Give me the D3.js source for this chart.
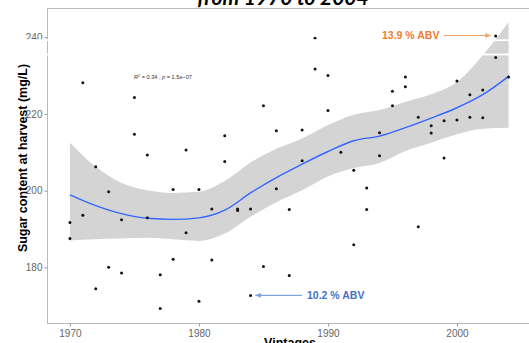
<!DOCTYPE html>
<html>
<head>
<meta charset="utf-8">
<script src="https://cdn.jsdelivr.net/npm/d3@7"></script>
<style>
  html, body { margin: 0; padding: 0; background: #fff; }
  svg { display: block; }
</style>
</head>
<body>
<svg id="chart" width="529" height="343"></svg>
<script>
// Harvest sugar content per vintage (two samples for most years)
const vintages = [
  1970, 1970, 1971, 1971, 1972, 1972, 1973, 1973, 1974, 1974,
  1975, 1975, 1976, 1976, 1977, 1977, 1978, 1978, 1979, 1979,
  1980, 1980, 1981, 1981, 1982, 1982, 1983, 1983, 1984, 1984,
  1985, 1985, 1986, 1986, 1987, 1987, 1988, 1988, 1989, 1989,
  1990, 1990, 1991, 1992, 1992, 1993, 1993, 1994, 1994, 1995,
  1995, 1996, 1996, 1997, 1997, 1998, 1998, 1999, 1999, 2000,
  2000, 2001, 2001, 2002, 2002, 2003, 2003, 2004
];
const sugar = [
  191.7, 187.5, 228.1, 193.6, 206.2, 174.4, 199.7, 180.0, 192.4, 178.5,
  224.3, 214.7, 209.3, 192.9, 178.1, 169.3, 200.3, 182.1, 210.6, 189.0,
  200.3, 171.2, 195.2, 181.9, 214.3, 207.6, 195.2, 194.8, 195.2, 172.7,
  222.1, 180.2, 215.6, 200.5, 195.1, 177.9, 215.8, 207.8, 239.7, 231.7,
  230.0, 220.9, 210.0, 205.3, 185.9, 200.7, 195.1, 215.1, 209.1, 225.9,
  222.1, 229.6, 227.1, 219.1, 190.6, 216.9, 215.0, 218.2, 208.5, 228.6,
  218.4, 225.0, 219.1, 226.2, 219.0, 240.3, 234.7, 229.6
];

// Smoothed trend with its confidence band
const smoothYears = [1970, 1972, 1974, 1976, 1978, 1980, 1982, 1984, 1986,
                     1988, 1990, 1992, 1994, 1996, 1998, 2000, 2002, 2004];
const smoothFit  = [198.9, 196.1, 194.0, 192.8, 192.5, 192.9, 194.9, 199.4, 203.4,
                    206.9, 210.2, 213.0, 214.2, 216.4, 218.9, 221.6, 225.0, 229.8];
const smoothLow  = [187.0, 187.3, 187.5, 187.7, 187.3, 186.9, 188.8, 193.2, 197.0,
                    200.1, 203.7, 205.9, 207.2, 210.3, 212.5, 214.7, 216.1, 216.4];
const smoothHigh = [212.5, 206.2, 202.0, 200.1, 199.4, 199.7, 202.5, 207.3, 210.9,
                    213.6, 217.1, 219.8, 221.0, 223.1, 225.1, 228.3, 235.3, 243.9];

const xTicks = [1970, 1980, 1990, 2000];
const yTicks = [180, 200, 220, 240];

// Labelled extremes
const highLabel = { year: 2003, value: 240.3, text: "13.9 % ABV" };
const lowLabel  = { year: 1984, value: 172.7, text: "10.2 % ABV" };

const svg = d3.select("#chart");
const panel = { left: 47.5, right: 531, top: 8.5, bottom: 323.5 };

const x = d3.scaleLinear().domain([1968.3, 2005.7]).range([48, 530.5]);
const y = d3.scaleLinear().domain([165.5, 247.6]).range([323, 8]);

// panel border
svg.append("rect")
  .attr("x", panel.left).attr("y", panel.top)
  .attr("width", panel.right - panel.left).attr("height", panel.bottom - panel.top)
  .attr("fill", "none").attr("stroke", "#b9b9b9").attr("stroke-width", 1);

const band = smoothYears.map((yr, i) => ({ yr, fit: smoothFit[i], lo: smoothLow[i], hi: smoothHigh[i] }));

svg.append("path")
  .datum(band)
  .attr("fill", "#d4d4d4")
  .attr("d", d3.area()
    .curve(d3.curveMonotoneX)
    .x(d => x(d.yr)).y0(d => y(d.lo)).y1(d => y(d.hi)));

svg.append("path")
  .datum(band)
  .attr("fill", "none")
  .attr("stroke", "#3366ff")
  .attr("stroke-width", 1.4)
  .attr("d", d3.line()
    .curve(d3.curveMonotoneX)
    .x(d => x(d.yr)).y(d => y(d.fit)));

svg.append("g")
  .selectAll("circle")
  .data(vintages.map((v, i) => ({ yr: v, s: sugar[i] })))
  .join("circle")
  .attr("cx", d => x(d.yr))
  .attr("cy", d => y(d.s))
  .attr("r", 1.5)
  .attr("fill", "#111");

// regression note
const stat = svg.append("text")
  .attr("x", 134).attr("y", 78.5)
  .attr("font-family", "Liberation Sans, Arial, sans-serif")
  .attr("font-size", 5.6)
  .attr("fill", "#333");
stat.append("tspan").attr("font-style", "italic").text("R");
stat.append("tspan").attr("font-size", 3.8).attr("dy", -2).text("2");
stat.append("tspan").attr("dy", 2).text(" = 0.34 , ");
stat.append("tspan").attr("font-style", "italic").text("p");
stat.append("tspan").text(" = 1.5e\u221207");

// arrow markers
const defs = svg.append("defs");
[["arrowOrange", "#f0a46e"], ["arrowBlue", "#7ea4dc"]].forEach(([id, col]) => {
  defs.append("marker")
    .attr("id", id).attr("viewBox", "0 0 10 10")
    .attr("refX", 9).attr("refY", 5)
    .attr("markerWidth", 5).attr("markerHeight", 5)
    .attr("orient", "auto")
    .append("path").attr("d", "M0,1 L10,5 L0,9 Z").attr("fill", col);
});

// high vintage annotation
const hy = y(highLabel.value) - 0.5;
svg.append("line")
  .attr("x1", 444).attr("x2", x(highLabel.year) - 5)
  .attr("y1", hy).attr("y2", hy)
  .attr("stroke", "#f0a46e").attr("stroke-width", 1.2)
  .attr("marker-end", "url(#arrowOrange)");
svg.append("text")
  .attr("x", 382).attr("y", hy + 3.8)
  .attr("font-family", "Liberation Sans, Arial, sans-serif")
  .attr("font-weight", "bold").attr("font-size", 10.5)
  .attr("fill", "#ed7d31")
  .text(highLabel.text);

// low vintage annotation
const ly = y(lowLabel.value);
svg.append("line")
  .attr("x1", 302).attr("x2", x(lowLabel.year) + 5)
  .attr("y1", ly).attr("y2", ly)
  .attr("stroke", "#7ea4dc").attr("stroke-width", 1.2)
  .attr("marker-end", "url(#arrowBlue)");
svg.append("text")
  .attr("x", 307).attr("y", ly + 3.8)
  .attr("font-family", "Liberation Sans, Arial, sans-serif")
  .attr("font-weight", "bold").attr("font-size", 10.5)
  .attr("fill", "#4472c4")
  .text(lowLabel.text);

// axes
const axisFont = "Liberation Sans, Arial, sans-serif";
const yAxis = svg.append("g")
  .attr("transform", `translate(${panel.left},0)`)
  .call(d3.axisLeft(y).tickValues(yTicks).tickSize(3).tickPadding(2).tickFormat(d3.format("d")));
const xAxis = svg.append("g")
  .attr("transform", `translate(0,${panel.bottom})`)
  .call(d3.axisBottom(x).tickValues(xTicks).tickSize(3).tickPadding(3).tickFormat(d3.format("d")));
[yAxis, xAxis].forEach(g => {
  g.select(".domain").remove();
  g.selectAll(".tick line").attr("stroke", "#9a9a9a");
  g.selectAll(".tick text")
    .attr("fill", "#666").attr("font-size", 10).attr("font-family", axisFont);
});

// thin white strips crossing the upper part of the chart
svg.append("rect").attr("x", 20).attr("y", 39.3).attr("width", 509).attr("height", 1.8).attr("fill", "#fff");
svg.append("rect").attr("x", 20).attr("y", 53.6).attr("width", 509).attr("height", 1.8).attr("fill", "#fff");

// axis titles
svg.append("text")
  .attr("transform", "translate(26.5,158) rotate(-90)")
  .attr("text-anchor", "middle")
  .attr("font-family", axisFont)
  .attr("font-weight", "bold").attr("font-size", 12.5)
  .attr("fill", "#000")
  .text("Sugar content at harvest (mg/L)");
svg.append("text")
  .attr("x", 290).attr("y", 347)
  .attr("text-anchor", "middle")
  .attr("font-family", axisFont)
  .attr("font-weight", "bold").attr("font-size", 12.5)
  .attr("fill", "#000")
  .text("Vintages");

// chart title (sits at the very top edge)
svg.append("text")
  .attr("x", 283).attr("y", 5)
  .attr("text-anchor", "middle")
  .attr("font-family", "Lato, 'Open Sans', sans-serif")
  .attr("font-weight", "bold").attr("font-style", "italic").attr("font-size", 21)
  .attr("fill", "#000")
  .text("from 1970 to 2004");
</script>
</body>
</html>
